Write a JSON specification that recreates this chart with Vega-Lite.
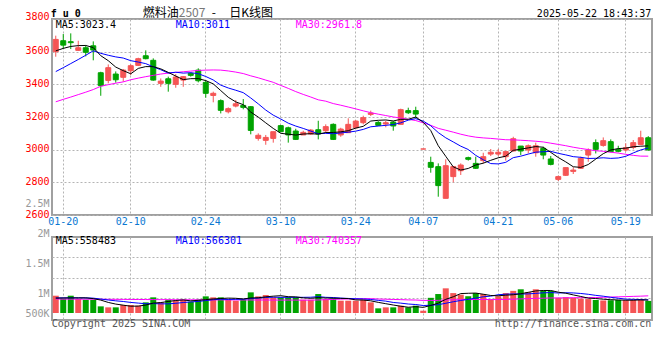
{
  "$schema": "https://vega.github.io/schema/vega-lite/v6.json",
  "padding": {"left": 23, "top": 5, "right": 5, "bottom": 5},
  "autosize": {"type": "pad"},
  "background": "white",
  "spacing": 22,
  "bounds": "flush",
  "config": {
    "view": {"stroke": "#a0a0a0", "strokeWidth": 2},
    "font": "DejaVu Sans Mono",
    "text": {"font": "DejaVu Sans Mono", "fontSize": 10},
    "axis": {"labelFont": "DejaVu Sans Mono", "labelFontSize": 10, "ticks": false, "tickSize": 0, "domain": false, "gridColor": "#b4b4b4", "gridDash": [2, 2], "gridWidth": 1, "labelOverlap": false, "labelFlush": false}
  },
  "data": {"name": "k"},
  "datasets": {
    "k": [
      {"d":"01-17","o":3600,"h":3698,"l":3569,"c":3675,"v":745000,"m5r":3605,"m10r":3478,"m30r":3293,"v5r":640000,"v10r":650000,"v30r":600000},
      {"d":"01-20","o":3667,"h":3708,"l":3618,"c":3640,"v":602000,"m5r":3620,"m10r":3502,"m30r":3308,"v5r":645000,"v10r":652000,"v30r":598000},
      {"d":"01-21","o":3661,"h":3712,"l":3616,"c":3655,"v":745000,"m5r":3632,"m10r":3527,"m30r":3322,"v5r":650000,"v10r":655000,"v30r":597000},
      {"d":"01-22","o":3608,"h":3667,"l":3604,"c":3624,"v":602000,"m5r":3637,"m10r":3552,"m30r":3337,"v5r":650000,"v10r":655000,"v30r":596000},
      {"d":"01-23","o":3624,"h":3640,"l":3571,"c":3596,"v":573000,"m5r":3638,"m10r":3578,"m30r":3352,"v5r":653400,"v10r":650000,"v30r":595000},
      {"d":"01-24","o":3636,"h":3663,"l":3547,"c":3610,"v":573000,"m10r":3605,"m30r":3368,"v10r":640000,"v30r":594000},
      {"d":"01-27","o":3471,"h":3477,"l":3330,"c":3392,"v":287000,"m10r":3590,"m30r":3388,"v10r":600000,"v30r":592000},
      {"d":"02-05","o":3424,"h":3522,"l":3406,"c":3502,"v":244000,"m10r":3578,"m30r":3398,"v10r":560000,"v30r":590000},
      {"d":"02-06","o":3463,"h":3479,"l":3410,"c":3428,"v":244000,"m10r":3568,"m30r":3407,"v10r":525000,"v30r":588000},
      {"d":"02-07","o":3443,"h":3494,"l":3416,"c":3487,"v":344000,"m10r":3561,"m30r":3415,"v10r":495900,"v30r":586000},
      {"d":"02-10","o":3483,"h":3522,"l":3457,"c":3514,"v":344000,"m30r":3428,"v30r":584000},
      {"d":"02-11","o":3516,"h":3563,"l":3512,"c":3557,"v":315000,"m30r":3438,"v30r":582000},
      {"d":"02-12","o":3575,"h":3608,"l":3553,"c":3557,"v":459000,"m30r":3447,"v30r":580000},
      {"d":"02-13","o":3547,"h":3559,"l":3422,"c":3426,"v":674000,"m30r":3455,"v30r":578000},
      {"d":"02-14","o":3406,"h":3436,"l":3385,"c":3420,"v":459000,"m30r":3463,"v30r":576000},
      {"d":"02-17","o":3434,"h":3447,"l":3355,"c":3406,"v":573000,"m30r":3469,"v30r":574000},
      {"d":"02-18","o":3400,"h":3463,"l":3379,"c":3445,"v":530000,"m30r":3473,"v30r":572000},
      {"d":"02-19","o":3426,"h":3451,"l":3385,"c":3447,"v":573000,"m30r":3477,"v30r":570000},
      {"d":"02-20","o":3467,"h":3473,"l":3447,"c":3455,"v":487000,"m30r":3481,"v30r":569000},
      {"d":"02-21","o":3487,"h":3498,"l":3412,"c":3422,"v":573000,"m30r":3485,"v30r":568000},
      {"d":"02-24","o":3412,"h":3426,"l":3318,"c":3345,"v":717000,"m30r":3487,"v30r":567000},
      {"d":"02-25","o":3332,"h":3355,"l":3290,"c":3345,"v":674000,"m30r":3488,"v30r":566000},
      {"d":"02-26","o":3300,"h":3308,"l":3222,"c":3241,"v":674000,"m30r":3487,"v30r":565000},
      {"d":"02-27","o":3232,"h":3259,"l":3222,"c":3251,"v":573000,"m30r":3482,"v30r":564000},
      {"d":"02-28","o":3267,"h":3304,"l":3259,"c":3281,"v":530000,"m30r":3475,"v30r":563000},
      {"d":"03-03","o":3271,"h":3310,"l":3247,"c":3259,"v":573000,"m30r":3466,"v30r":562000},
      {"d":"03-04","o":3263,"h":3267,"l":3094,"c":3118,"v":889000,"m30r":3452,"v30r":561000},
      {"d":"03-05","o":3069,"h":3100,"l":3055,"c":3088,"v":717000,"m30r":3440,"v30r":560000},
      {"d":"03-06","o":3057,"h":3090,"l":3030,"c":3075,"v":774000,"m30r":3426,"v30r":559000},
      {"d":"03-07","o":3069,"h":3110,"l":3043,"c":3110,"v":674000,"m30r":3412.4,"v30r":558000},
      {"d":"03-10","o":3147,"h":3151,"l":3110,"c":3110,"v":674000},
      {"d":"03-11","o":3134,"h":3141,"l":3043,"c":3090,"v":674000},
      {"d":"03-12","o":3114,"h":3128,"l":3059,"c":3063,"v":674000},
      {"d":"03-13","o":3090,"h":3116,"l":3090,"c":3106,"v":573000},
      {"d":"03-14","o":3096,"h":3126,"l":3090,"c":3120,"v":573000},
      {"d":"03-17","o":3122,"h":3177,"l":3063,"c":3096,"v":817000},
      {"d":"03-18","o":3116,"h":3155,"l":3104,"c":3141,"v":602000},
      {"d":"03-19","o":3155,"h":3161,"l":3059,"c":3063,"v":631000},
      {"d":"03-20","o":3090,"h":3134,"l":3079,"c":3126,"v":530000},
      {"d":"03-21","o":3104,"h":3192,"l":3104,"c":3155,"v":530000},
      {"d":"03-24","o":3134,"h":3181,"l":3130,"c":3175,"v":530000},
      {"d":"03-25","o":3165,"h":3208,"l":3155,"c":3196,"v":573000},
      {"d":"03-26","o":3216,"h":3239,"l":3206,"c":3224,"v":459000},
      {"d":"03-27","o":3167,"h":3175,"l":3147,"c":3149,"v":201000},
      {"d":"03-28","o":3157,"h":3177,"l":3137,"c":3165,"v":244000},
      {"d":"03-31","o":3169,"h":3175,"l":3116,"c":3145,"v":244000},
      {"d":"04-01","o":3155,"h":3251,"l":3155,"c":3245,"v":315000},
      {"d":"04-02","o":3239,"h":3257,"l":3218,"c":3226,"v":244000},
      {"d":"04-03","o":3239,"h":3263,"l":3192,"c":3218,"v":315000},
      {"d":"04-07","o":3004,"h":3004,"l":3004,"c":3004,"v":100000},
      {"d":"04-08","o":2922,"h":2957,"l":2859,"c":2892,"v":654000},
      {"d":"04-09","o":2896,"h":2916,"l":2712,"c":2780,"v":817000},
      {"d":"04-10","o":2702,"h":2941,"l":2702,"c":2902,"v":1062000},
      {"d":"04-11","o":2835,"h":2896,"l":2800,"c":2896,"v":858000},
      {"d":"04-14","o":2871,"h":2916,"l":2845,"c":2906,"v":789000},
      {"d":"04-15","o":2951,"h":2957,"l":2933,"c":2941,"v":722000},
      {"d":"04-16","o":2916,"h":2957,"l":2882,"c":2886,"v":858000},
      {"d":"04-17","o":2933,"h":2981,"l":2916,"c":2957,"v":817000},
      {"d":"04-18","o":2973,"h":3004,"l":2961,"c":2984,"v":585000},
      {"d":"04-21","o":2973,"h":3004,"l":2961,"c":2984,"v":722000},
      {"d":"04-22","o":2957,"h":2988,"l":2933,"c":2988,"v":858000},
      {"d":"04-23","o":2992,"h":3079,"l":2988,"c":3067,"v":953000},
      {"d":"04-24","o":3022,"h":3022,"l":2967,"c":2992,"v":1021000},
      {"d":"04-25","o":2998,"h":3032,"l":2977,"c":3024,"v":899000},
      {"d":"04-28","o":2981,"h":3043,"l":2957,"c":3024,"v":1021000},
      {"d":"04-29","o":3008,"h":3018,"l":2941,"c":2967,"v":953000},
      {"d":"04-30","o":2943,"h":2961,"l":2904,"c":2910,"v":953000},
      {"d":"05-06","o":2818,"h":2841,"l":2808,"c":2835,"v":654000},
      {"d":"05-07","o":2843,"h":2890,"l":2839,"c":2890,"v":681000},
      {"d":"05-08","o":2867,"h":2892,"l":2851,"c":2875,"v":654000},
      {"d":"05-09","o":2886,"h":2957,"l":2882,"c":2947,"v":620000},
      {"d":"05-12","o":2967,"h":3008,"l":2926,"c":2998,"v":600000},
      {"d":"05-13","o":3043,"h":3063,"l":2977,"c":3002,"v":560000},
      {"d":"05-14","o":3026,"h":3075,"l":3018,"c":3055,"v":540000},
      {"d":"05-15","o":3049,"h":3063,"l":2984,"c":2988,"v":550000},
      {"d":"05-16","o":3002,"h":3024,"l":2984,"c":2990,"v":560000},
      {"d":"05-19","o":2998,"h":3039,"l":2988,"c":3012,"v":550000},
      {"d":"05-20","o":3014,"h":3059,"l":3002,"c":3043,"v":560000},
      {"d":"05-21","o":3032,"h":3116,"l":3028,"c":3073,"v":600000},
      {"d":"05-22","o":3073,"h":3083,"l":2994,"c":2998,"v":520000}
    ]
  },
  "vconcat": [
    {
      "width": 600,
      "height": 196,
      "encoding": {
        "x": {"field": "d", "type": "ordinal", "sort": null, "scale": {"paddingInner": 0.2, "paddingOuter": 0.1},
          "axis": {"values": ["01-20","02-10","02-24","03-10","03-24","04-07","04-21","05-06","05-19"], "tickCount": 20, "labelColor": "#0a78d2", "labelAngle": 0, "labelPadding": 1, "grid": true, "bandPosition": 0.5, "title": null}}
      },
      "layer": [
        {
          "mark": {"type": "rule", "strokeWidth": 1},
          "encoding": {
            "y": {"field": "l", "type": "quantitative", "scale": {"domain": [2600, 3800], "nice": false, "zero": false},
              "axis": {"values": [2600, 2800, 3000, 3200, 3400, 3600, 3800], "tickCount": 20, "format": "d", "labelColor": "#ff0000", "labelPadding": 3, "labelFlush": false, "labelOverlap": false, "grid": true, "title": null,
                "labelOffset": {"expr": "datum.value == 3800 ? -2.5 : -1"}}},
            "y2": {"field": "h"},
            "color": {"condition": {"test": "datum.c >= datum.o", "value": "#f55555"}, "value": "#00a300"}
          }
        },
        {
          "mark": {"type": "bar", "width": 5, "strokeWidth": 1},
          "encoding": {
            "y": {"field": "o", "type": "quantitative", "title": null},
            "y2": {"field": "c"},
            "color": {"condition": {"test": "datum.c >= datum.o", "value": "#f55555"}, "value": "#00a300"},
            "stroke": {"condition": {"test": "datum.c >= datum.o", "value": "#f55555"}, "value": "#00a300"}
          }
        },
        {
          "transform": [{"filter": "isValid(datum.m30r)"}],
          "mark": {"type": "line", "color": "#ff00ff", "strokeWidth": 1},
          "encoding": {"y": {"field": "m30r", "type": "quantitative", "title": null}}
        },
        {
          "transform": [{"window": [{"op": "mean", "field": "c", "as": "ma"}, {"op": "row_number", "as": "rn"}], "frame": [-29, 0]}, {"filter": "datum.rn >= 30"}],
          "mark": {"type": "line", "color": "#ff00ff", "strokeWidth": 1},
          "encoding": {"y": {"field": "ma", "type": "quantitative", "title": null}}
        },
        {
          "transform": [{"filter": "isValid(datum.m10r)"}],
          "mark": {"type": "line", "color": "#0000ff", "strokeWidth": 1},
          "encoding": {"y": {"field": "m10r", "type": "quantitative", "title": null}}
        },
        {
          "transform": [{"window": [{"op": "mean", "field": "c", "as": "ma"}, {"op": "row_number", "as": "rn"}], "frame": [-9, 0]}, {"filter": "datum.rn >= 10"}],
          "mark": {"type": "line", "color": "#0000ff", "strokeWidth": 1},
          "encoding": {"y": {"field": "ma", "type": "quantitative", "title": null}}
        },
        {
          "transform": [{"filter": "isValid(datum.m5r)"}],
          "mark": {"type": "line", "color": "#000000", "strokeWidth": 1},
          "encoding": {"y": {"field": "m5r", "type": "quantitative", "title": null}}
        },
        {
          "transform": [{"window": [{"op": "mean", "field": "c", "as": "ma"}, {"op": "row_number", "as": "rn"}], "frame": [-4, 0]}, {"filter": "datum.rn >= 5"}],
          "mark": {"type": "line", "color": "#000000", "strokeWidth": 1},
          "encoding": {"y": {"field": "ma", "type": "quantitative", "title": null}}
        },
        {
          "data": {"values": [{}]},
          "mark": {"type": "text", "text": "MA5:3023.4", "align": "left", "baseline": "alphabetic", "color": "#000000", "fontSize": 10},
          "encoding": {"x": {"datum": "01-17", "type": "ordinal"}, "y": {"datum": 3742, "type": "quantitative"}}
        },
        {
          "data": {"values": [{}]},
          "mark": {"type": "text", "text": "MA10:3011", "align": "left", "baseline": "alphabetic", "color": "#0000ff", "fontSize": 10},
          "encoding": {"x": {"datum": "02-18", "type": "ordinal"}, "y": {"datum": 3742, "type": "quantitative"}}
        },
        {
          "data": {"values": [{}]},
          "mark": {"type": "text", "text": "MA30:2961.8", "align": "left", "baseline": "alphabetic", "color": "#ff00ff", "fontSize": 10},
          "encoding": {"x": {"datum": "03-12", "type": "ordinal"}, "y": {"datum": 3742, "type": "quantitative"}}
        },
        {
          "data": {"values": [{}]},
          "mark": {"type": "text", "text": "f u 0", "align": "left", "baseline": "alphabetic", "color": "#000000", "fontSize": 10, "fontWeight": "bold", "dx": -5},
          "encoding": {"x": {"datum": "01-17", "type": "ordinal"}, "y": {"datum": 3814, "type": "quantitative"}}
        },
        {
          "data": {"values": [{}]},
          "mark": {"type": "text", "text": "燃料油", "font": "Noto Sans CJK SC", "align": "left", "baseline": "alphabetic", "color": "#000000", "fontSize": 12, "dx": -3},
          "encoding": {"x": {"datum": "02-12", "type": "ordinal"}, "y": {"datum": 3814, "type": "quantitative"}}
        },
        {
          "data": {"values": [{}]},
          "mark": {"type": "text", "text": "2507", "font": "Noto Sans CJK SC", "align": "left", "baseline": "alphabetic", "color": "#777777", "fontSize": 12, "dx": 3},
          "encoding": {"x": {"datum": "02-18", "type": "ordinal"}, "y": {"datum": 3814, "type": "quantitative"}}
        },
        {
          "data": {"values": [{}]},
          "mark": {"type": "text", "text": "-", "font": "Noto Sans CJK SC", "align": "left", "baseline": "alphabetic", "color": "#000000", "fontSize": 12, "dx": 6},
          "encoding": {"x": {"datum": "02-24", "type": "ordinal"}, "y": {"datum": 3814, "type": "quantitative"}}
        },
        {
          "data": {"values": [{}]},
          "mark": {"type": "text", "text": "日K线图", "font": "Noto Sans CJK SC", "align": "left", "baseline": "alphabetic", "color": "#000000", "fontSize": 12, "dx": 1},
          "encoding": {"x": {"datum": "02-27", "type": "ordinal"}, "y": {"datum": 3814, "type": "quantitative"}}
        },
        {
          "data": {"values": [{}]},
          "mark": {"type": "text", "text": "2025-05-22 18:43:37", "align": "right", "baseline": "alphabetic", "color": "#000000", "fontSize": 10, "dx": 3},
          "encoding": {"x": {"datum": "05-22", "type": "ordinal"}, "y": {"datum": 3814, "type": "quantitative"}}
        }
      ]
    },
    {
      "width": 600,
      "height": 83,
      "encoding": {
        "x": {"field": "d", "type": "ordinal", "sort": null, "scale": {"paddingInner": 0.2, "paddingOuter": 0.1},
          "axis": {"values": ["01-20","02-10","02-24","03-10","03-24","04-07","04-21","05-06","05-19"], "tickCount": 20, "labels": false, "grid": true, "bandPosition": 0.5, "title": null}}
      },
      "layer": [
        {
          "mark": {"type": "bar"},
          "encoding": {
            "y": {"field": "v", "type": "quantitative", "scale": {"domain": [-300000, 3270000], "nice": false, "zero": false},
              "axis": {"values": [666000, 1526000, 2408000, 3269999, 3270000], "tickCount": 20,
                "labelExpr": "datum.value == 666000 ? '500K' : datum.value == 1526000 ? '1M' : datum.value == 2408000 ? '1.5M' : datum.value == 3270000 ? '2M' : '2.5M'",
                "labelColor": "#999999", "labelPadding": 3, "labelFlush": false, "labelOverlap": false, "grid": true,
                "gridOpacity": {"condition": {"test": "datum.value > 3000000", "value": 0}, "value": 1},
                "labelOffset": {"expr": "datum.value == 3269999 ? -34 : datum.value == 3270000 ? -4 : datum.value == 2408000 ? 6 : 15.5"},
                "title": null}},
            "y2": {"datum": 0},
            "color": {"condition": {"test": "datum.c >= datum.o", "value": "#f55555"}, "value": "#00a300"}
          }
        },
        {
          "transform": [{"filter": "isValid(datum.v30r)"}],
          "mark": {"type": "line", "color": "#ff00ff", "strokeWidth": 1},
          "encoding": {"y": {"field": "v30r", "type": "quantitative", "title": null}}
        },
        {
          "transform": [{"window": [{"op": "mean", "field": "v", "as": "vm"}, {"op": "row_number", "as": "rn"}], "frame": [-29, 0]}, {"filter": "datum.rn >= 30"}],
          "mark": {"type": "line", "color": "#ff00ff", "strokeWidth": 1},
          "encoding": {"y": {"field": "vm", "type": "quantitative", "title": null}}
        },
        {
          "transform": [{"filter": "isValid(datum.v10r)"}],
          "mark": {"type": "line", "color": "#0000ff", "strokeWidth": 1},
          "encoding": {"y": {"field": "v10r", "type": "quantitative", "title": null}}
        },
        {
          "transform": [{"window": [{"op": "mean", "field": "v", "as": "vm"}, {"op": "row_number", "as": "rn"}], "frame": [-9, 0]}, {"filter": "datum.rn >= 10"}],
          "mark": {"type": "line", "color": "#0000ff", "strokeWidth": 1},
          "encoding": {"y": {"field": "vm", "type": "quantitative", "title": null}}
        },
        {
          "transform": [{"filter": "isValid(datum.v5r)"}],
          "mark": {"type": "line", "color": "#000000", "strokeWidth": 1},
          "encoding": {"y": {"field": "v5r", "type": "quantitative", "title": null}}
        },
        {
          "transform": [{"window": [{"op": "mean", "field": "v", "as": "vm"}, {"op": "row_number", "as": "rn"}], "frame": [-4, 0]}, {"filter": "datum.rn >= 5"}],
          "mark": {"type": "line", "color": "#000000", "strokeWidth": 1},
          "encoding": {"y": {"field": "vm", "type": "quantitative", "title": null}}
        },
        {
          "data": {"values": [{}]},
          "mark": {"type": "text", "text": "MA5:558483", "align": "left", "baseline": "alphabetic", "color": "#000000", "fontSize": 10},
          "encoding": {"x": {"datum": "01-17", "type": "ordinal"}, "y": {"datum": 2982000, "type": "quantitative"}}
        },
        {
          "data": {"values": [{}]},
          "mark": {"type": "text", "text": "MA10:566301", "align": "left", "baseline": "alphabetic", "color": "#0000ff", "fontSize": 10},
          "encoding": {"x": {"datum": "02-18", "type": "ordinal"}, "y": {"datum": 2982000, "type": "quantitative"}}
        },
        {
          "data": {"values": [{}]},
          "mark": {"type": "text", "text": "MA30:740357", "align": "left", "baseline": "alphabetic", "color": "#ff00ff", "fontSize": 10},
          "encoding": {"x": {"datum": "03-12", "type": "ordinal"}, "y": {"datum": 2982000, "type": "quantitative"}}
        },
        {
          "data": {"values": [{}]},
          "mark": {"type": "text", "text": "Copyright 2025 SINA.COM", "align": "left", "baseline": "alphabetic", "color": "#555555", "fontSize": 10, "dx": -4},
          "encoding": {"x": {"datum": "01-17", "type": "ordinal"}, "y": {"datum": -600000, "type": "quantitative"}}
        },
        {
          "data": {"values": [{}]},
          "mark": {"type": "text", "text": "http://finance.sina.com.cn", "align": "right", "baseline": "alphabetic", "color": "#555555", "fontSize": 10, "dx": 3},
          "encoding": {"x": {"datum": "05-22", "type": "ordinal"}, "y": {"datum": -600000, "type": "quantitative"}}
        }
      ]
    }
  ]
}
